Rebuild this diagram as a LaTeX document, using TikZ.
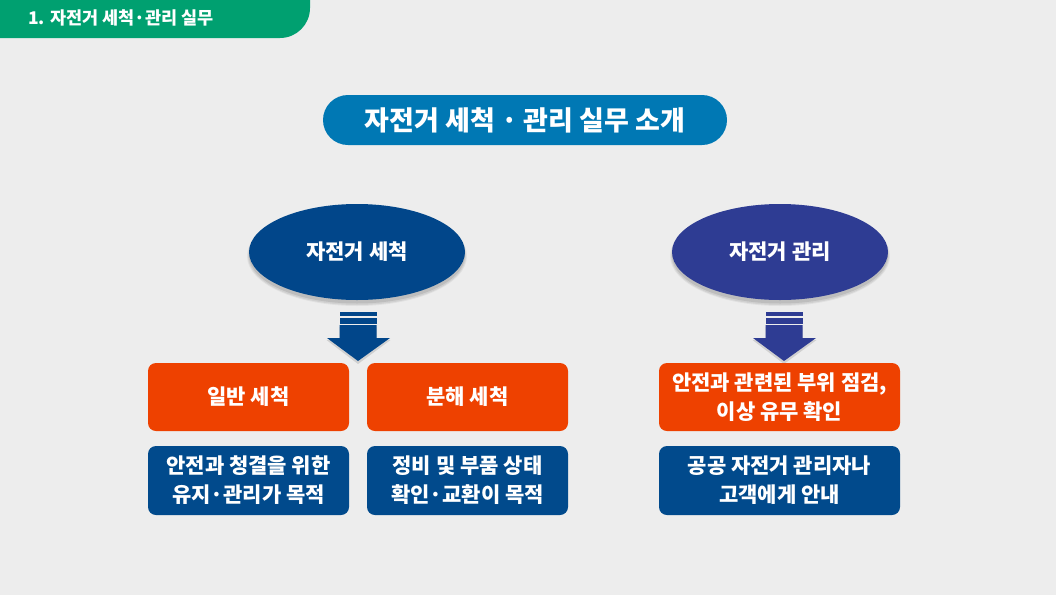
\documentclass[tikz,border=0pt]{standalone}
\usepackage{fontspec}
\newfontfamily\kr{Noto Sans CJK KR}
\usetikzlibrary{shapes.geometric}
\definecolor{bg}{HTML}{EDEDED}
\definecolor{tabgreen}{HTML}{00A070}
\definecolor{titleblue}{HTML}{0078B4}
\definecolor{navy}{HTML}{01468A}
\definecolor{indigo}{HTML}{2E3C93}
\definecolor{orng}{HTML}{EE4100}
\definecolor{boxblue}{HTML}{014A8C}
\tikzset{
  ell/.style={ellipse, minimum width=216pt, minimum height=96pt, inner sep=0pt,
    text=white, font=\kr\bfseries\fontsize{21}{24}\selectfont},
  obox/.style={rectangle, rounded corners=8pt, fill=orng, text=white, align=center,
    font=\kr\bfseries\fontsize{21}{29}\selectfont, inner sep=0pt},
  bbox/.style={rectangle, rounded corners=8pt, fill=boxblue, text=white, align=center,
    font=\kr\bfseries\fontsize{21}{29}\selectfont, inner sep=0pt}
}
\newcommand{\ellshadow}[2]{%
  \fill[black, opacity=0.05] (#1,#2+4) ellipse[x radius=110, y radius=50];
  \fill[black, opacity=0.07] (#1,#2+4) ellipse[x radius=109, y radius=49];
  \fill[black, opacity=0.09] (#1,#2+3.5) ellipse[x radius=108, y radius=48];}
\newcommand{\downarrowshape}[2]{%
  \begin{scope}[shift={(#1,0)}]
    \fill[#2] (-18.5,312) rectangle (18.5,316);
    \fill[#2] (-18.5,317.5) rectangle (18.5,323.5);
    \fill[black, opacity=0.12]
      (-18.5,327) -- (18.5,327) -- (18.5,340) -- (32.5,340) -- (0,364) -- (-31.5,340) -- (-18.5,340) -- cycle;
    \fill[#2]
      (-18.5,325) -- (18.5,325) -- (18.5,338) -- (32,338) -- (0,361) -- (-31,338) -- (-18.5,338) -- cycle;
  \end{scope}}
\begin{document}
\begin{tikzpicture}[x=1pt,y=-1pt]
\fill[bg] (0,0) rectangle (1056,595);
\useasboundingbox (0,0) rectangle (1056,595);
% tab
\fill[tabgreen] (0,0) -- (310,0) -- (310,8) arc[start angle=0, end angle=90, radius=30] -- (0,38) -- cycle;
\node[anchor=west, text=white, font=\kr\bfseries\fontsize{17.5}{19}\selectfont, inner sep=0pt] (tab) at (28,18) {1. 자전거 세척·관리 실무};
% title
\node[rectangle, rounded corners=25pt, fill=titleblue, minimum width=404pt, minimum height=50pt,
  text=white, font=\kr\bfseries\fontsize{27}{30}\selectfont, inner sep=0pt] (title) at (525,120) {자전거 세척 · 관리 실무 소개};
% ellipses
\ellshadow{357}{252}
\ellshadow{780}{252}
\node[ell, fill=navy] (e1) at (357,252) {자전거 세척};
\node[ell, fill=indigo] (e2) at (780,252) {자전거 관리};
% arrows
\downarrowshape{358}{navy}
\downarrowshape{784}{indigo}
% boxes
\node[obox, minimum width=201pt, minimum height=68pt] (o1) at (248.5,397) {일반 세척};
\node[obox, minimum width=201pt, minimum height=68pt] (o2) at (467.5,397) {분해 세척};
\node[obox, minimum width=241pt, minimum height=68pt] (o3) at (779.5,397) {안전과 관련된 부위 점검,\\이상 유무 확인};
\node[bbox, minimum width=201pt, minimum height=69pt] (b1) at (248.5,480.5) {안전과 청결을 위한\\유지·관리가 목적};
\node[bbox, minimum width=201pt, minimum height=69pt] (b2) at (467.5,480.5) {정비 및 부품 상태\\확인·교환이 목적};
\node[bbox, minimum width=241pt, minimum height=69pt] (b3) at (779.5,480.5) {공공 자전거 관리자나\\고객에게 안내};
\end{tikzpicture}
\end{document}
